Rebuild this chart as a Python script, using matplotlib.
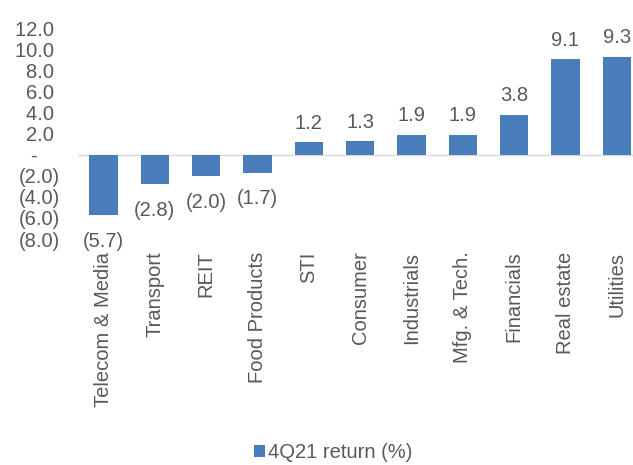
import matplotlib
matplotlib.use("Agg")
import matplotlib.pyplot as plt
import numpy as np

plt.rcParams['font.family'] = ['Liberation Sans', 'DejaVu Sans']

categories = ["Telecom & Media", "Transport", "REIT", "Food Products", "STI",
              "Consumer", "Industrials", "Mfg. & Tech.", "Financials",
              "Real estate", "Utilities"]
returns = [-5.7, -2.8, -2.0, -1.7, 1.2, 1.3, 1.9, 1.9, 3.8, 9.1, 9.3]

txt = "#595959"
bar_color = "#4a7ebb"
fs = 14.5

fig = plt.figure(figsize=(6.33, 4.65), dpi=100)
ax = fig.add_axes([0.123, 0.486, 0.892, 0.452])

x = np.arange(len(categories))
ax.bar(x, returns, width=0.55, color=bar_color, label="4Q21 return (%)", zorder=2)
ax.axhline(0, color="#d9d9d9", lw=1, zorder=1)

for xi, v in zip(x, returns):
    if v >= 0:
        ax.annotate(f"{v:.1f}", (xi, v), xytext=(0, 7), textcoords="offset points",
                    ha="center", va="bottom", fontsize=fs, color=txt)
    else:
        ax.annotate(f"({abs(v):.1f})", (xi, v), xytext=(0, -12), textcoords="offset points",
                    ha="center", va="top", fontsize=fs, color=txt)

# accounting style labels: positives keep room for the closing bracket
def acct(t):
    if t == 0:
        return "-    "
    if t < 0:
        return f"({abs(t):.1f})"
    return f"{t:.1f} "

ax.set_ylim(-8, 12)
ax.set_xlim(-0.5, 10.5)
yt = np.arange(-8, 13, 2)
ax.set_yticks(yt)
ax.set_yticklabels([acct(t) for t in yt])
ax.set_xticks(x)
ax.set_xticklabels(categories, rotation=90)
ax.tick_params(axis="both", length=0, labelsize=fs, colors=txt)
ax.tick_params(axis="y", pad=13)
ax.tick_params(axis="x", pad=9)
for sp in ax.spines.values():
    sp.set_visible(False)

leg = fig.legend(loc="center", bbox_to_anchor=(0.527, 0.026), frameon=False,
                 fontsize=fs, handlelength=0.55, handleheight=0.55, handletextpad=0.15)
for t in leg.get_texts():
    t.set_color(txt)

fig.savefig("out.png", dpi=100)
